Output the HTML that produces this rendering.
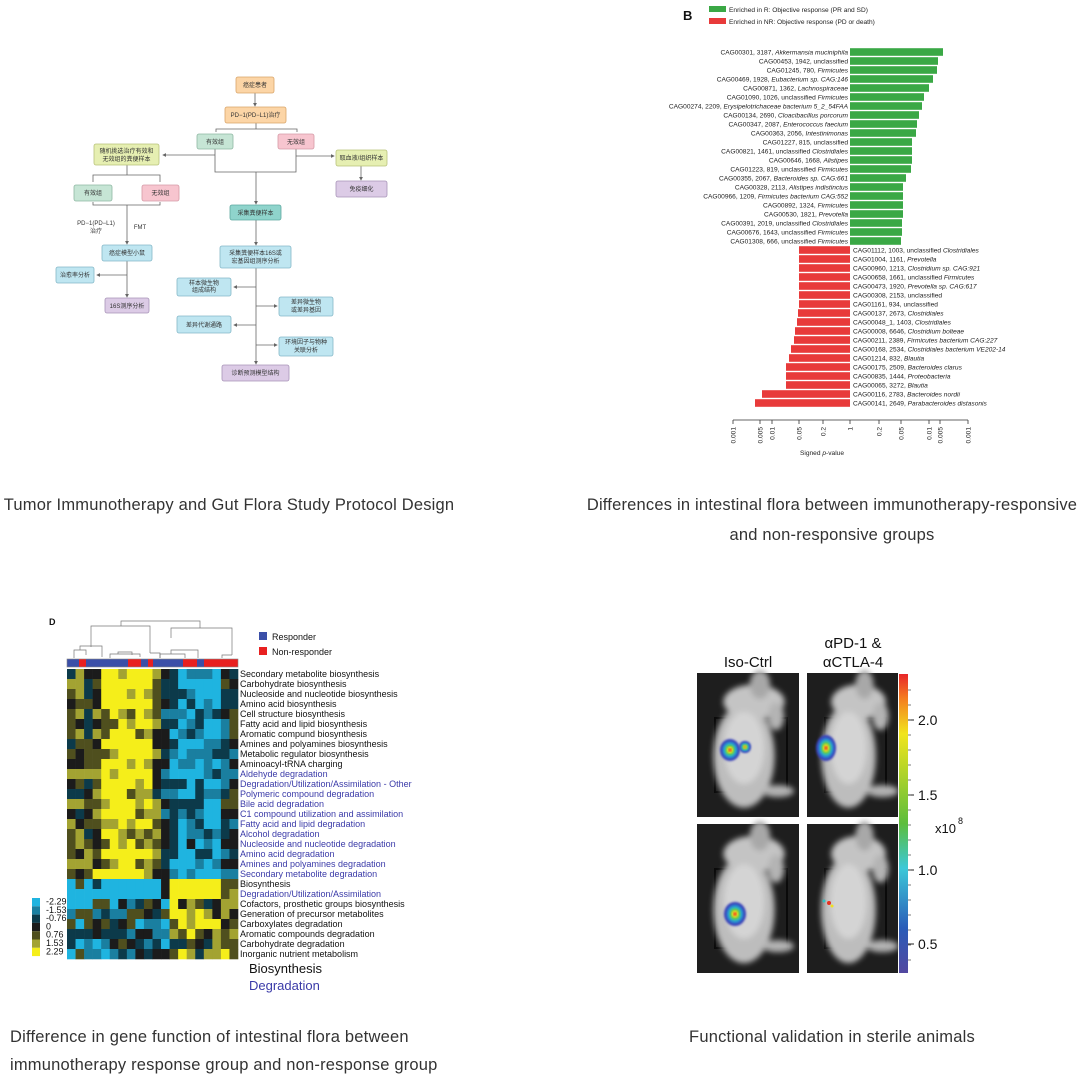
<!DOCTYPE html>
<html><head><meta charset="utf-8">
<style>
html,body{margin:0;padding:0;background:#fff;}
svg{display:block;}
.cap{font-family:"Liberation Sans","Noto Sans CJK SC",sans-serif;font-size:16.5px;letter-spacing:0.2px;fill:#333;}
.fc{font-family:"Liberation Sans","Noto Sans CJK SC",sans-serif;font-size:6px;fill:#333;}
.bl{font-family:"Liberation Sans",sans-serif;font-size:6.6px;fill:#222;}
.hl{font-family:"Liberation Sans",sans-serif;font-size:9px;fill:#111;}
.hd{font-family:"Liberation Sans",sans-serif;font-size:9px;fill:#3a3aa8;}
.ms{font-family:"Liberation Sans",sans-serif;fill:#111;}
</style></head><body>
<svg id="s" width="1078" height="1076" viewBox="0 0 1078 1076" xmlns="http://www.w3.org/2000/svg">
<defs>
<marker id="ar" markerWidth="5" markerHeight="5" refX="4" refY="2.5" orient="auto"><path d="M0,0 L5,2.5 L0,5z" fill="#666"/></marker>
<filter id="bl2"><feGaussianBlur stdDeviation="3"/></filter>
<filter id="bl1"><feGaussianBlur stdDeviation="1"/></filter>
<linearGradient id="cb" x1="0" y1="0" x2="0" y2="1">
<stop offset="0" stop-color="#e8262a"/><stop offset="0.08" stop-color="#f47c20"/><stop offset="0.2" stop-color="#f1e51c"/><stop offset="0.5" stop-color="#5cbd3c"/><stop offset="0.65" stop-color="#3cc8d8"/><stop offset="0.85" stop-color="#2a5cb8"/><stop offset="1" stop-color="#5248a0"/>
</linearGradient>
</defs>

<!-- ============ FLOWCHART ============ -->
<g stroke="#666" stroke-width="0.8" fill="none">
<line x1="255" y1="93" x2="255" y2="106" marker-end="url(#ar)"/>
<path d="M216,132 V129 H297 V132"/>
<line x1="256" y1="123" x2="256" y2="129"/>
<path d="M215,149 V172 H296 V149"/>
<line x1="215" y1="155" x2="163" y2="155" marker-end="url(#ar)"/>
<line x1="296" y1="156" x2="334" y2="156" marker-end="url(#ar)"/>
<line x1="361" y1="166" x2="361" y2="180" marker-end="url(#ar)"/>
<line x1="256" y1="172" x2="256" y2="204" marker-end="url(#ar)"/>
<line x1="256" y1="220" x2="256" y2="245" marker-end="url(#ar)"/>
<line x1="256" y1="268" x2="256" y2="364" marker-end="url(#ar)"/>
<line x1="256" y1="287" x2="234" y2="287" marker-end="url(#ar)"/>
<line x1="256" y1="306" x2="277" y2="306" marker-end="url(#ar)"/>
<line x1="256" y1="325" x2="234" y2="325" marker-end="url(#ar)"/>
<line x1="256" y1="345" x2="277" y2="345" marker-end="url(#ar)"/>
<line x1="127" y1="165" x2="127" y2="175"/>
<path d="M93,182 V175 H160 V182"/>
<path d="M93,202 V205 H160 V202"/>
<line x1="127" y1="205" x2="127" y2="244" marker-end="url(#ar)"/>
<line x1="127" y1="261" x2="127" y2="297" marker-end="url(#ar)"/>
<line x1="127" y1="275" x2="97" y2="275" marker-end="url(#ar)"/>
</g>
<g stroke-width="0.8">
<rect x="236" y="77" width="38" height="16" rx="2" fill="#fcd5a6" stroke="#d9a56a"/>
<rect x="225" y="107" width="61" height="16" rx="2" fill="#fcd5a6" stroke="#d9a56a"/>
<rect x="197" y="134" width="36" height="15" rx="2" fill="#c6e5d5" stroke="#8fb8a3"/>
<rect x="278" y="134" width="36" height="15" rx="2" fill="#f7c5cf" stroke="#d59aa6"/>
<rect x="94" y="144" width="65" height="21" rx="2" fill="#e6efb2" stroke="#b8c27a"/>
<rect x="336" y="150" width="51" height="16" rx="2" fill="#e6efb2" stroke="#b8c27a"/>
<rect x="336" y="181" width="51" height="16" rx="2" fill="#dccbe6" stroke="#a894b8"/>
<rect x="74" y="185" width="38" height="16" rx="2" fill="#c6e5d5" stroke="#8fb8a3"/>
<rect x="142" y="185" width="37" height="16" rx="2" fill="#f7c5cf" stroke="#d59aa6"/>
<rect x="230" y="205" width="51" height="15" rx="2" fill="#8fd4cc" stroke="#5fa9a0"/>
<rect x="102" y="245" width="50" height="16" rx="2" fill="#bfe6f1" stroke="#85b8c8"/>
<rect x="220" y="246" width="71" height="22" rx="2" fill="#bfe6f1" stroke="#85b8c8"/>
<rect x="56" y="267" width="38" height="16" rx="2" fill="#bfe6f1" stroke="#85b8c8"/>
<rect x="105" y="298" width="44" height="15" rx="2" fill="#dccbe6" stroke="#a894b8"/>
<rect x="177" y="278" width="54" height="18" rx="2" fill="#bfe6f1" stroke="#85b8c8"/>
<rect x="279" y="297" width="54" height="19" rx="2" fill="#bfe6f1" stroke="#85b8c8"/>
<rect x="177" y="316" width="54" height="17" rx="2" fill="#bfe6f1" stroke="#85b8c8"/>
<rect x="279" y="337" width="54" height="19" rx="2" fill="#bfe6f1" stroke="#85b8c8"/>
<rect x="222" y="365" width="67" height="16" rx="2" fill="#dccbe6" stroke="#a894b8"/>
</g>
<g class="fc" text-anchor="middle">
<text x="255" y="87">癌症患者</text>
<text x="255.5" y="117">PD−1(PD−L1)治疗</text>
<text x="215" y="144">有效组</text>
<text x="296" y="144">无效组</text>
<text x="126.5" y="153">随机挑选治疗有效和</text>
<text x="126.5" y="161">无效组的粪便样本</text>
<text x="361.5" y="160">取血液/组织样本</text>
<text x="361.5" y="191">免疫细化</text>
<text x="93" y="195">有效组</text>
<text x="160.5" y="195">无效组</text>
<text x="255.5" y="215">采集粪便样本</text>
<text x="127" y="255">癌症模型小鼠</text>
<text x="255.5" y="255">采集粪便样本16S或</text>
<text x="255.5" y="263">宏基因组测序分析</text>
<text x="75" y="277">治愈率分析</text>
<text x="127" y="308">16S测序分析</text>
<text x="204" y="285">样本微生物</text>
<text x="204" y="292">组成结构</text>
<text x="306" y="304">差异微生物</text>
<text x="306" y="312">或差异基因</text>
<text x="204" y="327">差异代谢通路</text>
<text x="306" y="344">环境因子与物种</text>
<text x="306" y="352">关联分析</text>
<text x="255.5" y="375">诊断预测模型结构</text>
<text x="96" y="225">PD−1(PD−L1)</text>
<text x="96" y="233">治疗</text>
<text x="140" y="229">FMT</text>
</g>

<!-- ============ BAR CHART ============ -->
<text x="683" y="20" font-family="Liberation Sans,sans-serif" font-weight="bold" font-size="13" fill="#111">B</text>
<rect x="709" y="6" width="17" height="6" fill="#3aa845"/>
<rect x="709" y="18" width="17" height="6" fill="#e83a3a"/>
<text x="729" y="12" class="bl" font-size="7">Enriched in R: Objective response (PR and SD)</text>
<text x="729" y="24" class="bl" font-size="7">Enriched in NR: Objective response (PD or death)</text>
<g id="bars"></g>
<g stroke="#333" stroke-width="0.8">
<line x1="733" y1="420" x2="968" y2="420"/>
</g>
<g id="axis"></g>
<text x="822" y="455" class="bl" font-size="8.5" text-anchor="middle">Signed <tspan font-style="italic">p</tspan>-value</text>

<!-- captions -->
<text x="229" y="510" class="cap" text-anchor="middle">Tumor Immunotherapy and Gut Flora Study Protocol Design</text>
<text x="832" y="510" class="cap" text-anchor="middle">Differences in intestinal flora between immunotherapy-responsive</text>
<text x="832" y="540" class="cap" text-anchor="middle">and non-responsive groups</text>
<text x="10" y="1042" class="cap">Difference in gene function of intestinal flora between</text>
<text x="10" y="1070" class="cap">immunotherapy response group and non-response group</text>
<text x="832" y="1042" class="cap" text-anchor="middle">Functional validation in sterile animals</text>

<!-- ============ HEATMAP ============ -->
<text x="49" y="625" font-family="Liberation Sans,sans-serif" font-weight="bold" font-size="9" fill="#111">D</text>
<g stroke="#777" stroke-width="0.7" fill="none">
<path d="M121,626 V621 H200 V628"/>
<path d="M91,647 V626 H150 V653"/>
<path d="M171,638 V628 H232 V655"/>
<path d="M74,658 V650 H86 V655"/><path d="M80,650 V646 H102 V657"/>
<path d="M110,658 V654 H140 V657"/><path d="M118,654 V652 H132 V655"/>
<path d="M160,658 V654 H185 V658"/><path d="M171,654 V650 H198 V658"/>
<path d="M150,653 H160 V658"/><path d="M232,655 H222 V658"/>
</g>
<g id="strip"></g>
<rect x="259" y="632" width="8" height="8" fill="#3b4fa8"/>
<rect x="259" y="647" width="8" height="8" fill="#e82020"/>
<text x="272" y="640" class="hl" font-size="8.5">Responder</text>
<text x="272" y="655" class="hl" font-size="8.5">Non-responder</text>
<g id="heat"></g>
<g id="hlab"></g>
<g id="hleg"></g>
<text x="249" y="973" class="ms" font-size="13">Biosynthesis</text>
<text x="249" y="990" class="ms" font-size="13" style="fill:#3a3aa8">Degradation</text>

<!-- ============ MICE ============ -->
<text x="748" y="667" class="ms" font-size="15" text-anchor="middle">Iso-Ctrl</text>
<text x="853" y="648" class="ms" font-size="15" text-anchor="middle">αPD-1 &amp;</text>
<text x="853" y="667" class="ms" font-size="15" text-anchor="middle">αCTLA-4</text>
<g id="mice"></g>
<rect x="899" y="674" width="9" height="299" fill="url(#cb)"/>
<g id="cbt"></g>
<text x="935" y="833" class="ms" font-size="13">x10</text>
<text x="958" y="824" class="ms" font-size="9">8</text>
</svg>
<script>
var NS="http://www.w3.org/2000/svg";
function el(p,t,a,txt){var e=document.createElementNS(NS,t);for(var k in a)e.setAttribute(k,a[k]);if(txt!=null)e.innerHTML=txt;document.getElementById(p).appendChild(e);return e;}
var G=[["CAG00301, 3187, <tspan font-style='italic'>Akkermansia muciniphila</tspan>",943],
["CAG00453, 1942, unclassified",938],["CAG01245, 780, <tspan font-style='italic'>Firmicutes</tspan>",937],
["CAG00469, 1928, <tspan font-style='italic'>Eubacterium sp. CAG:146</tspan>",933],["CAG00871, 1362, <tspan font-style='italic'>Lachnospiraceae</tspan>",929],
["CAG01090, 1026, unclassified <tspan font-style='italic'>Firmicutes</tspan>",924],["CAG00274, 2209, <tspan font-style='italic'>Erysipelotrichaceae bacterium 5_2_54FAA</tspan>",922],
["CAG00134, 2690, <tspan font-style='italic'>Cloacibacillus porcorum</tspan>",919],["CAG00347, 2087, <tspan font-style='italic'>Enterococcus faecium</tspan>",917],
["CAG00363, 2056, <tspan font-style='italic'>Intestinimonas</tspan>",916],["CAG01227, 815, unclassified",912],
["CAG00821, 1461, unclassified <tspan font-style='italic'>Clostridiales</tspan>",912],["CAG00646, 1668, <tspan font-style='italic'>Alistipes</tspan>",912],
["CAG01223, 819, unclassified <tspan font-style='italic'>Firmicutes</tspan>",911],["CAG00355, 2067, <tspan font-style='italic'>Bacteroides sp. CAG:661</tspan>",906],
["CAG00328, 2113, <tspan font-style='italic'>Alistipes indistinctus</tspan>",903],["CAG00966, 1209, <tspan font-style='italic'>Firmicutes bacterium CAG:552</tspan>",903],
["CAG00892, 1324, <tspan font-style='italic'>Firmicutes</tspan>",903],["CAG00530, 1821, <tspan font-style='italic'>Prevotella</tspan>",903],
["CAG00391, 2019, unclassified <tspan font-style='italic'>Clostridiales</tspan>",902],["CAG00676, 1643, unclassified <tspan font-style='italic'>Firmicutes</tspan>",902],
["CAG01308, 666, unclassified <tspan font-style='italic'>Firmicutes</tspan>",901]];
G.forEach(function(g,i){var y=52+i*9;el('bars','rect',{x:850,y:y-3.8,width:g[1]-850,height:7.6,fill:'#3aa845'});
el('bars','text',{x:848,y:y+2.3,'text-anchor':'end','class':'bl'},g[0]);});
var R=[["CAG01112, 1003, unclassified <tspan font-style='italic'>Clostridiales</tspan>",799],["CAG01004, 1161, <tspan font-style='italic'>Prevotella</tspan>",799],
["CAG00960, 1213, <tspan font-style='italic'>Clostridium sp. CAG:921</tspan>",799],["CAG00658, 1661, unclassified <tspan font-style='italic'>Firmicutes</tspan>",799],
["CAG00473, 1920, <tspan font-style='italic'>Prevotella sp. CAG:617</tspan>",799],["CAG00308, 2153, unclassified",799],["CAG01161, 934, unclassified",799],
["CAG00137, 2673, <tspan font-style='italic'>Clostridiales</tspan>",798],["CAG00048_1, 1403, <tspan font-style='italic'>Clostridiales</tspan>",797],
["CAG00008, 6646, <tspan font-style='italic'>Clostridium bolteae</tspan>",795],["CAG00211, 2389, <tspan font-style='italic'>Firmicutes bacterium CAG:227</tspan>",794],
["CAG00168, 2534, <tspan font-style='italic'>Clostridiales bacterium VE202-14</tspan>",791],["CAG01214, 832, <tspan font-style='italic'>Blautia</tspan>",789],
["CAG00175, 2509, <tspan font-style='italic'>Bacteroides clarus</tspan>",786],["CAG00835, 1444, <tspan font-style='italic'>Proteobacteria</tspan>",786],
["CAG00065, 3272, <tspan font-style='italic'>Blautia</tspan>",786],["CAG00116, 2783, <tspan font-style='italic'>Bacteroides nordii</tspan>",762],
["CAG00141, 2649, <tspan font-style='italic'>Parabacteroides distasonis</tspan>",755]];
R.forEach(function(g,i){var y=250+i*9;el('bars','rect',{x:g[1],y:y-3.8,width:850-g[1],height:7.6,fill:'#e83a3a'});
el('bars','text',{x:853,y:y+2.3,'class':'bl'},g[0]);});
[[733,"0.001"],[760,"0.005"],[772,"0.01"],[799,"0.05"],[823,"0.2"],[850,"1"],[879,"0.2"],[901,"0.05"],[929,"0.01"],[940,"0.005"],[968,"0.001"]].forEach(function(t){
el('axis','line',{x1:t[0],y1:420,x2:t[0],y2:424,stroke:'#333','stroke-width':0.8});
el('axis','text',{x:0,y:0,'class':'bl','font-size':7,'text-anchor':'end',transform:'translate('+(t[0]+2.5)+',427) rotate(-90)'},t[1]);});
var seed=7;function rnd(){seed=(seed*16807)%2147483647;return seed/2147483647;}
var cols=['#1fb4e0','#1a7fa0','#0c3a4a','#1b1b1b','#4f4f1e','#a3a332','#f5ee1a'];
function col(v){var i=Math.round((v+2.29)/0.763);if(i<0)i=0;if(i>6)i=6;return cols[i];}
var NC=20,x0=67,cw=171/NC,y0=669,rh=10;
var tp=[0.4,0.6,0.2,0.8,1.8,2.3,2.3,2.0,1.6,2.3,0.8,-0.3,-1.5,-2.0,-1.3,-2.0,-2.1,-1.9,-0.6,-0.4];
for(var r=0;r<29;r++){for(var c=0;c<NC;c++){var v;
if(r<21){v=tp[c]+(rnd()-0.5)*2.4;}
else if(r<23){v=(c<11?-2.3:(c==11?-0.2:2.3));if(c==1&&r==21)v=1;if(c==3&&r==21)v=-0.8;if(c>=18)v=1+(rnd()-0.5)*2;}
else{v=(c<12?-0.7:0.8)+(rnd()-0.5)*3.6;}
el('heat','rect',{x:(x0+c*cw).toFixed(2),y:y0+r*rh,width:(cw+0.3).toFixed(2),height:rh+0.3,fill:col(v)});}}
var strip=[[67,79,'b'],[79,86,'r'],[86,128,'b'],[128,141,'r'],[141,148,'b'],[148,153,'r'],[153,183,'b'],[183,197,'r'],[197,204,'b'],[204,238,'r']];
strip.forEach(function(s){el('strip','rect',{x:s[0],y:659,width:s[1]-s[0],height:8,fill:s[2]=='b'?'#3b4fa8':'#e82020'});});
el('strip','rect',{x:67,y:659,width:171,height:8,fill:'none',stroke:'#888','stroke-width':0.6});
var L=[["Secondary metabolite biosynthesis",0],["Carbohydrate biosynthesis",0],["Nucleoside and nucleotide biosynthesis",0],["Amino acid biosynthesis",0],
["Cell structure biosynthesis",0],["Fatty acid and lipid biosynthesis",0],["Aromatic compund biosynthesis",0],["Amines and polyamines biosynthesis",0],
["Metabolic regulator biosynthesis",0],["Aminoacyl-tRNA charging",0],["Aldehyde degradation",1],["Degradation/Utilization/Assimilation - Other",1],
["Polymeric compound degradation",1],["Bile acid degradation",1],["C1 compound utilization and assimilation",1],["Fatty acid and lipid degradation",1],
["Alcohol degradation",1],["Nucleoside and nucleotide degradation",1],["Amino acid degradation",1],["Amines and polyamines degradation",1],
["Secondary metabolite degradation",1],["Biosynthesis",0],["Degradation/Utilization/Assimilation",1],["Cofactors, prosthetic groups biosynthesis",0],
["Generation of precursor metabolites",0],["Carboxylates degradation",0],["Aromatic compounds degradation",0],["Carbohydrate degradation",0],["Inorganic nutrient metabolism",0]];
L.forEach(function(l,i){el('hlab','text',{x:240,y:y0+i*rh+8,'class':l[1]?'hd':'hl'},l[0]);});
["-2.29","-1.53","-0.76","0","0.76","1.53","2.29"].forEach(function(t,i){var y=898+i*8.3;
el('hleg','rect',{x:32,y:y,width:8,height:8.3,fill:cols[i]});
el('hleg','text',{x:46,y:y+6.5,'class':'hl','font-size':6.5},t);});
function mouse(x,y,w,h){
 el('mice','rect',{x:x,y:y,width:w,height:h,fill:'#1e1e1e'});
 el('mice','rect',{x:x+18,y:y+45,width:w-30,height:h-70,fill:'none',stroke:'#0a0a0a','stroke-width':2});
 var g=el('mice','g',{filter:'url(#bl2)'});
 var cx=x+w*0.5,cy=y+h*0.52;
 [['ellipse',{cx:cx-4,cy:cy+8,rx:w*0.3,ry:h*0.36,fill:'#bdbdbd'}],['ellipse',{cx:cx+6,cy:y+h*0.2,rx:w*0.3,ry:h*0.12,fill:'#c4c4c4'}],
  ['ellipse',{cx:cx+12,cy:y+h*0.08,rx:w*0.1,ry:h*0.1,fill:'#a8a8a8'}],['ellipse',{cx:cx+28,cy:y+h*0.3,rx:8,ry:14,fill:'#b4b4b4'}],
  ['ellipse',{cx:cx+30,cy:y+h*0.82,rx:16,ry:6,fill:'#b4b4b4'}],['ellipse',{cx:cx-4,cy:cy,rx:w*0.2,ry:h*0.25,fill:'#d4d4d4'}]].forEach(function(e){
   var n=document.createElementNS(NS,e[0]);for(var k in e[1])n.setAttribute(k,e[1][k]);g.appendChild(n);});
}
mouse(697,673,102,144);mouse(807,673,91,144);mouse(697,824,102,149);mouse(807,824,91,149);
function blob(cx,cy,s){var c=[['#3a3fb8',1],['#2a7fd0',0.8],['#2cc0c0',0.6],['#6cc83c',0.45],['#f0e020',0.3],['#e83020',0.15]];
 c.forEach(function(k){el('mice','ellipse',{cx:cx,cy:cy,rx:s[0]*k[1],ry:s[1]*k[1],fill:k[0],filter:'url(#bl1)'});});}
blob(730,750,[10,11]);blob(745,747,[6,6]);blob(826,748,[10,13]);blob(735,914,[11,12]);
el('mice','circle',{cx:829,cy:903,r:2,fill:'#e83020'});el('mice','circle',{cx:824,cy:901,r:1.5,fill:'#2cc0c0'});el('mice','circle',{cx:832,cy:906,r:1.5,fill:'#f0e020'});
[["2.0",720],["1.5",795],["1.0",870],["0.5",944]].forEach(function(t){el('cbt','line',{x1:908,y1:t[1],x2:914,y2:t[1],stroke:'#222','stroke-width':1});
 el('cbt','text',{x:918,y:t[1]+5,'class':'ms','font-size':14},t[0]);});
for(var yy=690;yy<970;yy+=15){el('cbt','line',{x1:908,y1:yy,x2:911,y2:yy,stroke:'#444','stroke-width':0.7});}
</script>
</body></html>
